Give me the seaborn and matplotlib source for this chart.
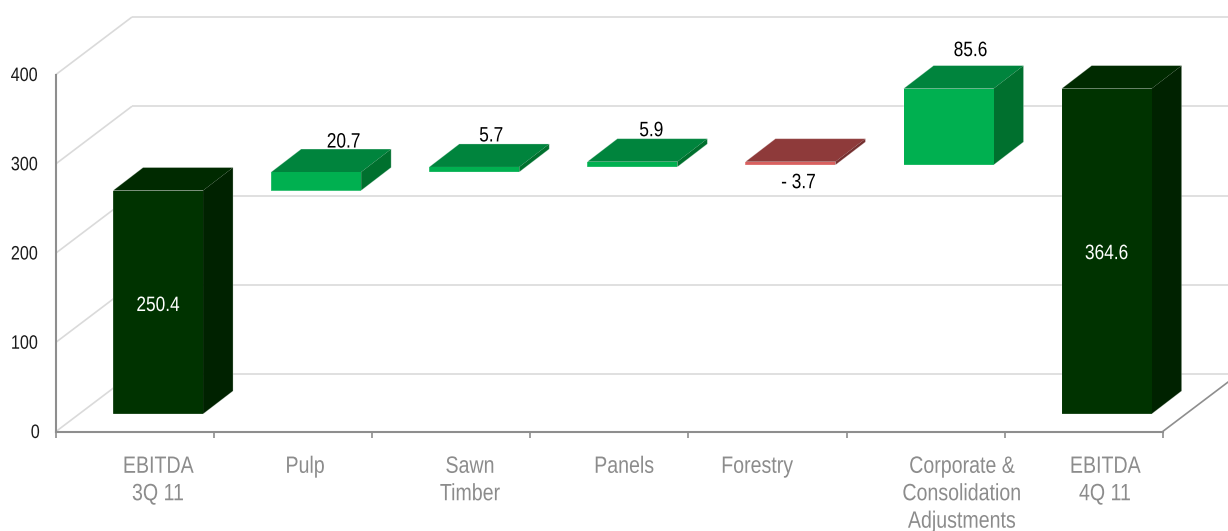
import numpy as np
import pandas as pd
import matplotlib
matplotlib.use("Agg")
import matplotlib.pyplot as plt
from matplotlib.patches import Polygon
from matplotlib.patheffects import AbstractPathEffect
from matplotlib.transforms import Affine2D
import seaborn as sns

# EBITDA bridge, 3Q 11 to 4Q 11
categories = ["EBITDA\n3Q 11", "Pulp", "Sawn\nTimber", "Panels", "Forestry",
              "Corporate &\nConsolidation\nAdjustments", "EBITDA\n4Q 11"]
values = [250.4, 20.7, 5.7, 5.9, -3.7, 85.6, 364.6]
value_text = ["250.4", "20.7", "5.7", "5.9", "- 3.7", "85.6", "364.6"]
y_ticks = [0, 100, 200, 300, 400]

# Bottoms of the floating bars: running total between the two totals
bottoms = [0.0] + list(np.cumsum(values[:-2])) + [0.0]

FIG_W, FIG_H = 1228, 531
AX_L, AX_R, AX_BOT, AX_TOP = 56.0, 1162.7, 431.5, 74.5
PX_X = 7 / (AX_R - AX_L)          # category units per pixel
PX_Y = 400 / (AX_BOT - AX_TOP)    # value units per pixel

WALL_DX, WALL_DY = 76 * PX_X, 57.5 * PX_Y
PLANE_DX, PLANE_DY = 23 * PX_X, 17.5 * PX_Y
BAR_DX, BAR_DY = 30 * PX_X, 23 * PX_Y
BAR_W = 90 * PX_X

GRID = "#DADADA"
AXIS = "#8E8E8E"
LABEL = "#8C8C8C"
DARK = ("#003300", "#002A00", "#002200")
GREEN = ("#00B050", "#00843D", "#00702E")
RED = ("#D9605F", "#8E3A3A", "#742F2F")
bar_faces = [DARK, GREEN, GREEN, GREEN, RED, GREEN, DARK]


class Narrow(AbstractPathEffect):
    """Condense each line of text horizontally about its own centre."""

    def __init__(self, factor=0.83):
        super().__init__()
        self.factor = factor

    def draw_path(self, renderer, gc, tpath, affine, rgbFace=None):
        box = tpath.get_extents(affine)
        cx = box.x0 + box.width / 2
        squeezed = affine + Affine2D().translate(-cx, 0).scale(self.factor, 1).translate(cx, 0)
        renderer.draw_path(gc, tpath, squeezed, rgbFace)


sns.set_theme(style="white")
plt.rcParams["font.family"] = ["Liberation Sans", "DejaVu Sans"]

fig = plt.figure(figsize=(FIG_W / 100, FIG_H / 100), dpi=100, facecolor="white")
ax = fig.add_axes([AX_L / FIG_W, 1 - AX_BOT / FIG_H,
                   (AX_R - AX_L) / FIG_W, (AX_BOT - AX_TOP) / FIG_H])
ax.patch.set_alpha(0)

frame = pd.DataFrame({"category": categories, "value": values, "bottom": bottoms})
sns.barplot(data=frame, x="category", y="value", bottom=frame["bottom"].to_numpy(),
            width=BAR_W, color=GREEN[0], saturation=1, zorder=4, ax=ax)
front_faces = list(ax.patches)

ax.set_xlim(-0.5, 6.5)
ax.set_ylim(0, 400)
ax.set_xlabel("")
ax.set_ylabel("")

# Side wall, back wall and floor edge
for v in y_ticks:
    ax.plot([-0.5, -0.5 + WALL_DX], [v, v + WALL_DY], color=GRID, lw=1.2,
            clip_on=False, zorder=1, solid_capstyle="butt")
    ax.plot([-0.5 + WALL_DX, 6.5 + WALL_DX], [v + WALL_DY, v + WALL_DY], color=GRID,
            lw=1.2, clip_on=False, zorder=1, solid_capstyle="butt")
ax.plot([6.5, 6.5 + WALL_DX], [0, WALL_DY], color=AXIS, lw=1.2, clip_on=False, zorder=2)

# Bars sit part-way into the floor; each gets a top and a side face
for patch, faces in zip(front_faces, bar_faces):
    patch.set_facecolor(faces[0])
    patch.set_edgecolor("none")
    patch.set_transform(ax.transData + Affine2D().translate(23, 17.5))
    patch.set_clip_on(False)
    x0 = patch.get_x()
    x1 = x0 + patch.get_width()
    lo = min(patch.get_y(), patch.get_y() + patch.get_height()) + PLANE_DY
    hi = max(patch.get_y(), patch.get_y() + patch.get_height()) + PLANE_DY
    x0 += PLANE_DX
    x1 += PLANE_DX
    top = [(x0, hi), (x1, hi), (x1 + BAR_DX, hi + BAR_DY), (x0 + BAR_DX, hi + BAR_DY)]
    side = [(x1, lo), (x1 + BAR_DX, lo + BAR_DY), (x1 + BAR_DX, hi + BAR_DY), (x1, hi)]
    ax.add_patch(Polygon(top, closed=True, facecolor=faces[1], edgecolor="none",
                         clip_on=False, zorder=3))
    ax.add_patch(Polygon(side, closed=True, facecolor=faces[2], edgecolor="none",
                         clip_on=False, zorder=3))
    # Pale rim along the silhouette of the box
    rim = [(x0, lo), (x0, hi), (x0 + BAR_DX, hi + BAR_DY), (x1 + BAR_DX, hi + BAR_DY),
           (x1 + BAR_DX, lo + BAR_DY), (x1, lo), (x0, lo)]
    ax.plot(*zip(*rim), color="#FFFFFF", alpha=0.3, lw=0.6, clip_on=False, zorder=5)

narrow = [Narrow()]

# Value labels: offset in pixels from the bar's front-face centre and upper edge
label_offsets = [(0, -115), (27.5, 30), (17, 31), (19, 31), (8, -21), (22, 38), (0, -165)]
label_colors = ["white", "black", "black", "black", "black", "black", "white"]
for i, (val, low, txt, off, col) in enumerate(zip(values, bottoms, value_text,
                                                  label_offsets, label_colors)):
    level = max(low, low + val) + PLANE_DY
    ax.annotate(txt, xy=(i + PLANE_DX, level), xytext=off, textcoords="offset pixels",
                ha="center", va="center", fontsize=15, color=col, zorder=6,
                annotation_clip=False, path_effects=narrow)

# Axes: boundary ticks along x, category names placed by hand under each bar
sns.despine(ax=ax)
for name in ("left", "bottom"):
    ax.spines[name].set_color(AXIS)
    ax.spines[name].set_linewidth(1.5)
ax.set_yticks(y_ticks)
ax.tick_params(axis="y", length=4.5, width=1.2, color=AXIS, pad=6.5, labelsize=14,
               labelcolor="#1A1A1A")
label_x_px = [158, 305, 470, 624, 757, 962, 1105]
ax.set_xticks([(p - AX_L) * PX_X - 0.5 for p in label_x_px])
ax.set_xticklabels(categories, color=LABEL, fontsize=17, linespacing=1.32)
ax.tick_params(axis="x", which="major", length=0, pad=17.5)
ax.set_xticks(np.arange(-0.5, 7.0, 1.0), minor=True)
ax.tick_params(axis="x", which="minor", bottom=True, length=4.5, width=1.2, color=AXIS)
for tick_label in ax.get_xticklabels() + ax.get_yticklabels():
    tick_label.set_path_effects(narrow)

fig.savefig("out.png", dpi=100, facecolor="white")
